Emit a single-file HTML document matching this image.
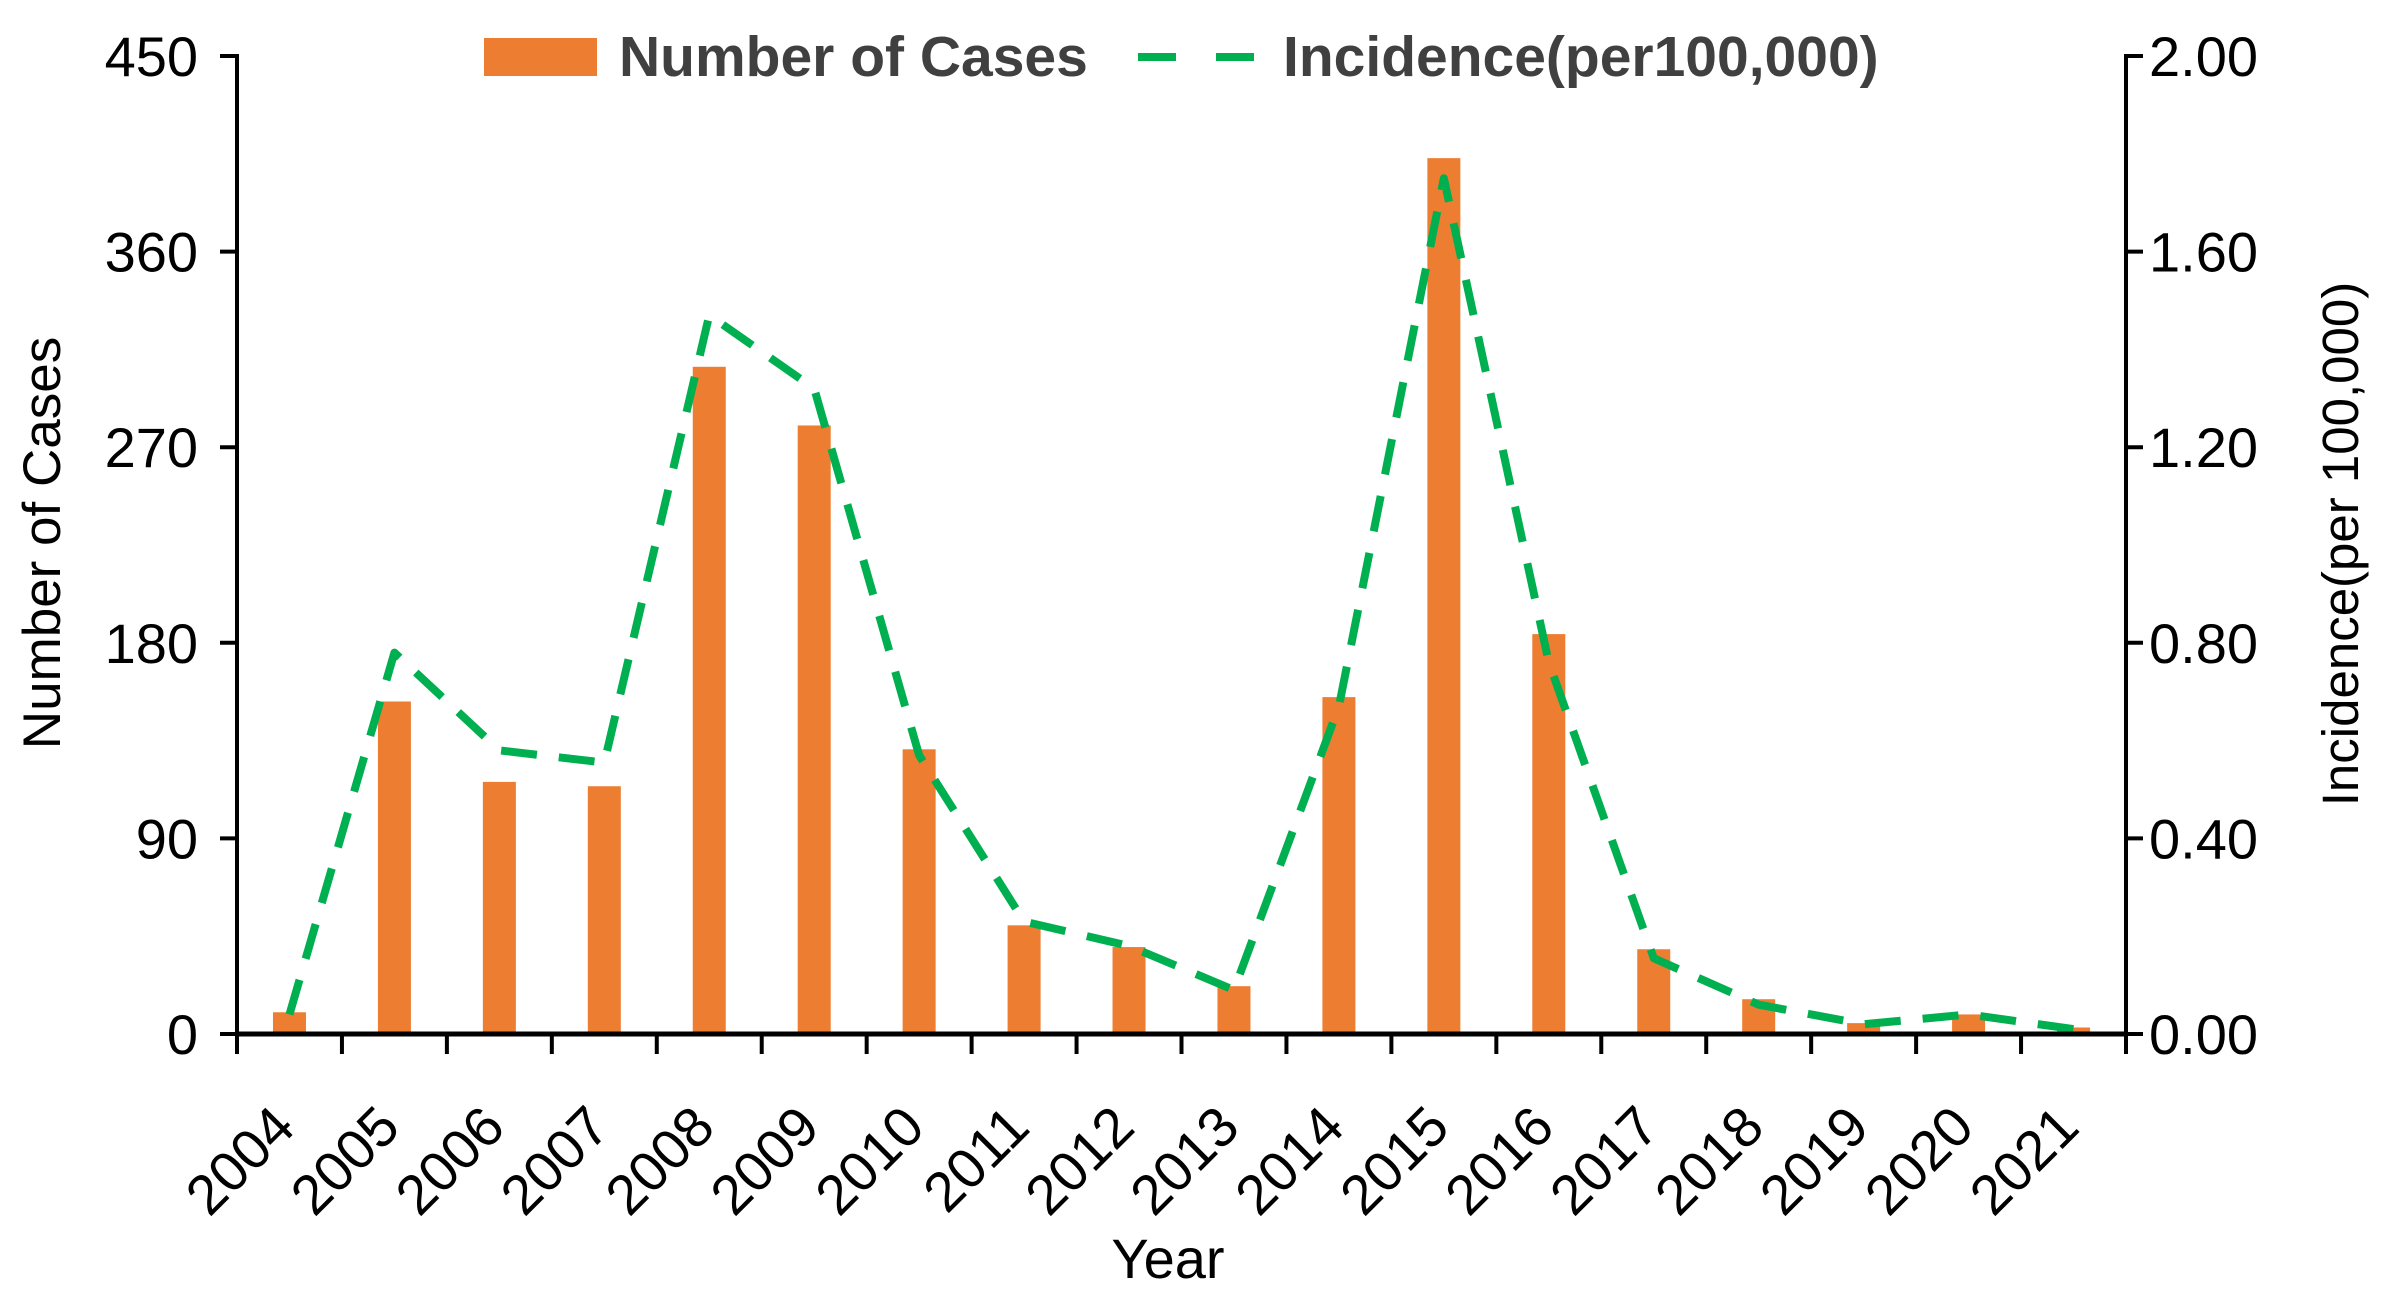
<!DOCTYPE html>
<html><head><meta charset="utf-8"><style>
html,body{margin:0;padding:0;background:#fff;}
svg{display:block;font-family:"Liberation Sans",Arial,sans-serif;}
</style></head><body>
<svg id="chart" width="2386" height="1307" viewBox="0 0 2386 1307">
<g id="bars"></g>
<g id="line"></g>
<g id="axes"></g>
<g>
  <rect x="484" y="38" width="113" height="38" fill="#ED7D31"/>
  <text x="619" y="76" font-size="57" font-weight="bold" fill="#404040">Number of Cases</text>
  <line x1="1138" y1="57" x2="1254" y2="57" stroke="#00B050" stroke-width="8" stroke-dasharray="38,40"/>
  <text x="1283" y="76" font-size="57" font-weight="bold" fill="#404040">Incidence(per100,000)</text>
</g>
<text x="42" y="543" font-size="53" text-anchor="middle" transform="rotate(-90 42 543)" dy="18" fill="#000">Number of Cases</text>
<text x="2341" y="544" font-size="51" text-anchor="middle" transform="rotate(-90 2341 544)" dy="17" fill="#000">Incidence(per 100,000)</text>
<text x="1168" y="1278" font-size="56" text-anchor="middle" fill="#000">Year</text>
</svg>
<script>
const years = ["2004","2005","2006","2007","2008","2009","2010","2011","2012","2013","2014","2015","2016","2017","2018","2019","2020","2021"];
const cases = [10,153,116,114,307,280,131,50,40,22,155,403,184,39,16,5,9,3];
const incidence = [0.04,0.78,0.58,0.555,1.47,1.32,0.57,0.23,0.18,0.09,0.67,1.75,0.76,0.155,0.06,0.02,0.04,0.01];
const leftTicks = [0,90,180,270,360,450];
const rightTicks = ["0.00","0.40","0.80","1.20","1.60","2.00"];
const rightTickValues = [0,0.4,0.8,1.2,1.6,2.0];

const NS="http://www.w3.org/2000/svg";
const X0=237, X1=2126, Y0=1034, YT=56;
const band=(X1-X0)/years.length;
function xc(i){return X0+band*(i+0.5);}
function yL(v){return Y0-(v/450)*(Y0-YT);}
function yR(v){return Y0-(v/2)*(Y0-YT);}
function mk(tag,attrs,parent){const e=document.createElementNS(NS,tag);for(const k in attrs)e.setAttribute(k,attrs[k]);parent.appendChild(e);return e;}

const bars=document.getElementById('bars');
const bw=33;
cases.forEach((v,i)=>{
  const r=mk('rect',{x:xc(i)-bw/2,y:yL(v),width:bw,height:Y0-yL(v),fill:'#ED7D31'},bars);
  
  
});

const lg=document.getElementById('line');
const pts=incidence.map((v,i)=>xc(i)+','+yR(v)).join(' ');
const pl=mk('polyline',{points:pts,fill:'none',stroke:'#00B050','stroke-width':8,'stroke-dasharray':'36,22','stroke-linejoin':'round'},lg);



const ax=document.getElementById('axes');
const a1=mk('line',{x1:X0,y1:YT-2,x2:X0,y2:Y0+2,stroke:'#000','stroke-width':4},ax);


const a2=mk('line',{x1:X1,y1:YT-2,x2:X1,y2:Y0+2,stroke:'#000','stroke-width':4},ax);


const a3=mk('line',{x1:X0,y1:Y0,x2:X1,y2:Y0,stroke:'#000','stroke-width':5},ax);



leftTicks.forEach(v=>{
  const y=yL(v);
  mk('line',{x1:X0-17,y1:y,x2:X0,y2:y,stroke:'#000','stroke-width':4},ax);
  const t=mk('text',{x:198,y:y+20,'font-size':56,'text-anchor':'end',fill:'#000'},ax);
  t.textContent=v;
  
  
});
rightTickValues.forEach((v,i)=>{
  const y=yR(v);
  mk('line',{x1:X1,y1:y,x2:X1+17,y2:y,stroke:'#000','stroke-width':4},ax);
  const t=mk('text',{x:2149,y:y+20,'font-size':56,fill:'#000'},ax);
  t.textContent=rightTicks[i];
  
  
});
for(let i=0;i<=years.length;i++){
  const x=X0+band*i;
  mk('line',{x1:x,y1:Y0,x2:x,y2:Y0+20,stroke:'#000','stroke-width':4},ax);
}
years.forEach((yr,i)=>{
  const x=xc(i)+8, y=1130;
  const t=mk('text',{x:x,y:y,'font-size':56,'text-anchor':'end',fill:'#000',transform:'rotate(-45 '+x+' '+y+')'},ax);
  t.textContent=yr;
  
  
});
</script>
</body></html>
